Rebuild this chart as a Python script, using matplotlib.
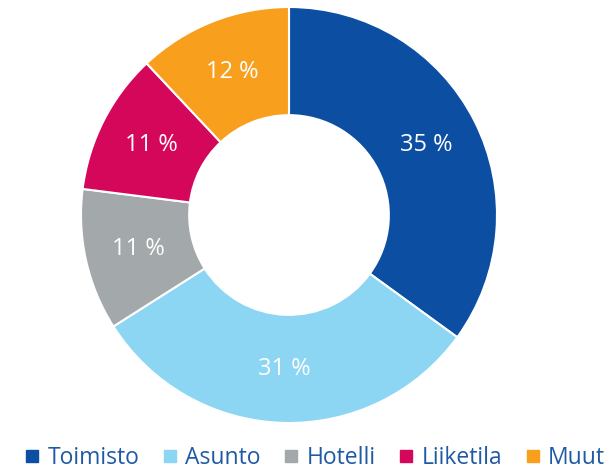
import matplotlib
matplotlib.use("Agg")
import matplotlib.pyplot as plt
from matplotlib.lines import Line2D
import numpy as np

categories = ["Toimisto", "Asunto", "Hotelli", "Liiketila", "Muut"]
values = [35, 31, 11, 11, 12]
labels = ["35 %", "31 %", "11 %", "11 %", "12 %"]
colors = ["#0B4EA2", "#8DD6F3", "#A3A8AA", "#D5075B", "#F8A01D"]

plt.rcParams['font.family'] = ['Open Sans', 'DejaVu Sans']

fig = plt.figure(figsize=(6.15, 4.69), dpi=100)
ax = fig.add_axes([81/615, (469-215-208)/469, 416/615, 416/469])
ring_w = 0.52
wedges, _ = ax.pie(values, colors=colors, startangle=90, counterclock=False,
                   radius=1.0, wedgeprops=dict(width=ring_w, edgecolor='white', linewidth=1.5))
for w, lab in zip(wedges, labels):
    ang = np.deg2rad((w.theta1 + w.theta2) / 2)
    r = 1 - ring_w / 2
    ax.text(r*np.cos(ang), r*np.sin(ang), lab, ha='center', va='center',
            color='white', fontsize=17)
ax.set_xlim(-1, 1)
ax.set_ylim(-1, 1)
ax.set_aspect('equal')
ax.axis('off')

handles = [Line2D([], [], marker='s', linestyle='none', markersize=8.5,
                  markerfacecolor=c, markeredgecolor=c) for c in colors]
leg = fig.legend(handles, categories, loc='center', bbox_to_anchor=(314/615, (469-458)/469),
                 ncol=5, frameon=False, fontsize=16.5, handletextpad=0.25,
                 columnspacing=0.95, handlelength=0.8)
for t in leg.get_texts():
    t.set_color('#1F5AA6')

fig.savefig("out.png", dpi=100)
